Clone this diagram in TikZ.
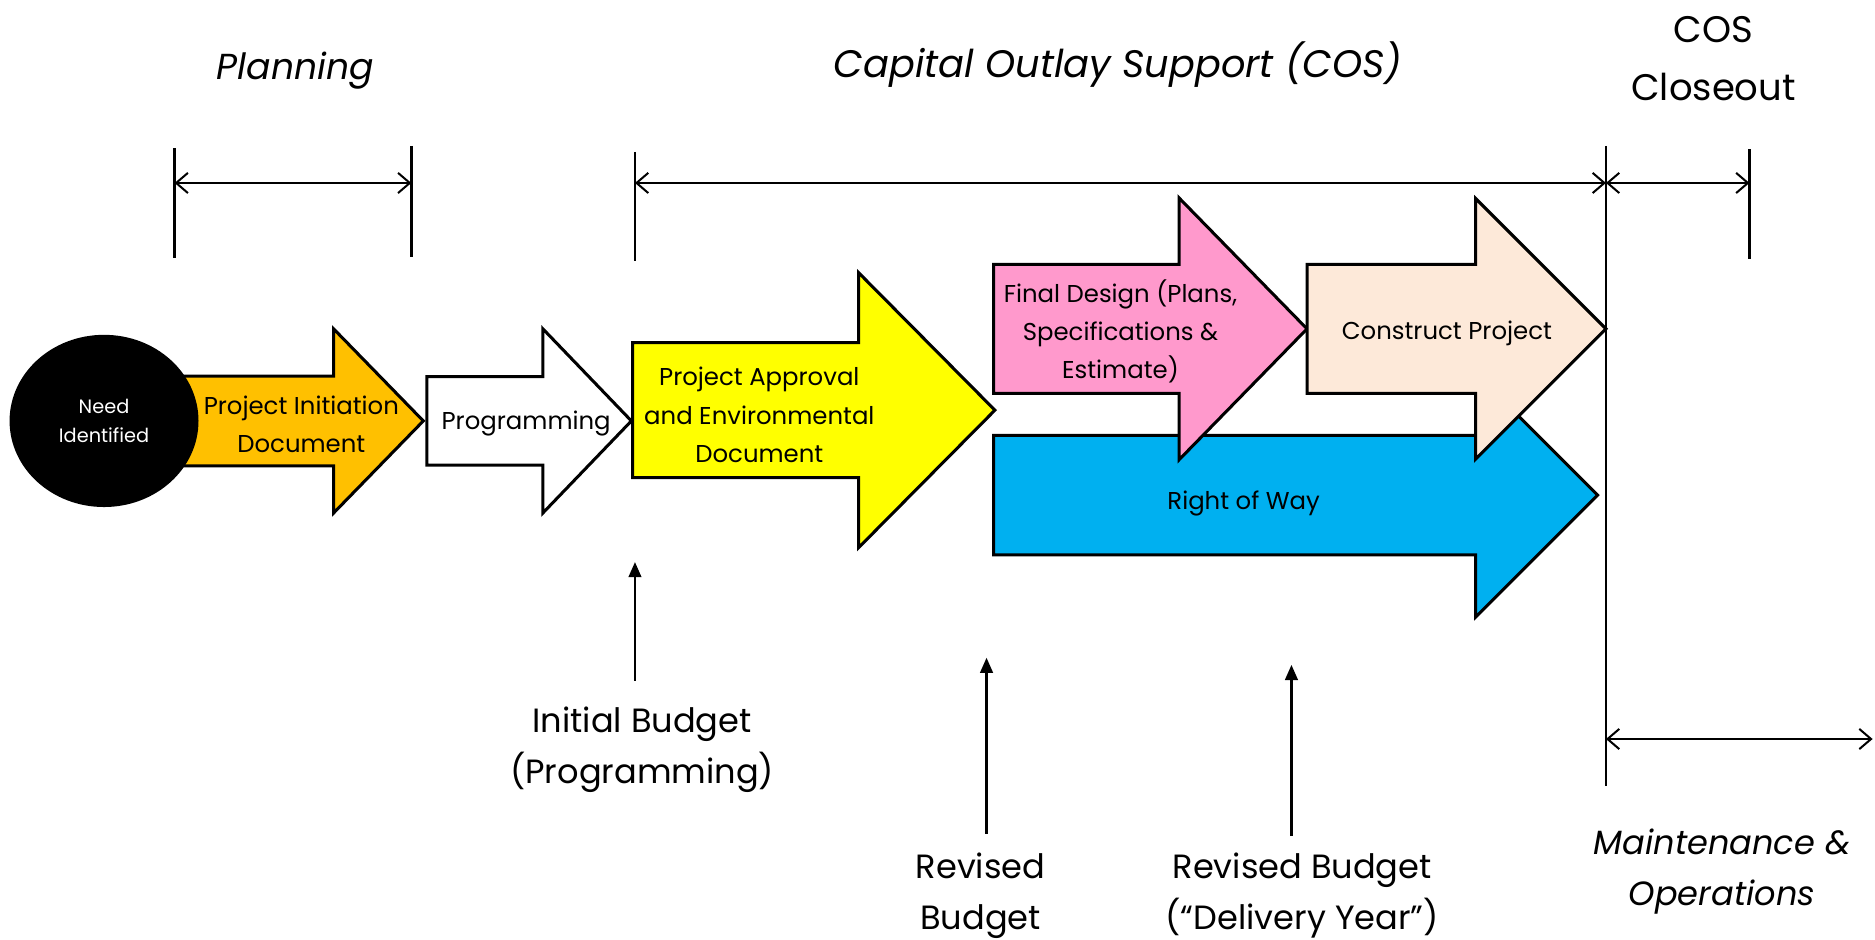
\documentclass[tikz,border=0pt]{standalone}
\usepackage{fontspec}
\setmainfont{Poppins}
\usetikzlibrary{arrows.meta,shapes.geometric}

\definecolor{pidorange}{HTML}{FFC000}
\definecolor{paedyellow}{HTML}{FFFF00}
\definecolor{psepink}{HTML}{FF99CC}
\definecolor{rowblue}{HTML}{00B0F0}
\definecolor{conpeach}{HTML}{FDE9D9}

% block arrow: fill, left, head base, tip, centre y, body half, head half
\newcommand{\phasearrow}[7]{%
  \draw[blockline,fill=#1] (#2,#5-#6) -- (#3,#5-#6) -- (#3,#5-#7) -- (#4,#5)
    -- (#3,#5+#7) -- (#3,#5+#6) -- (#2,#5+#6) -- cycle;}

\begin{document}
\begin{tikzpicture}[x=0.25mm,y=-0.25mm,
  blockline/.style={draw=black,line width=1.8pt,line join=miter},
  phaselabel/.style={align=center,inner sep=0pt,font=\fontsize{14.5}{22.7}\selectfont},
  heading/.style={align=center,inner sep=0pt,font=\fontsize{21.5}{34}\selectfont\itshape},
  budget/.style={align=center,inner sep=0pt,font=\fontsize{20}{30}\selectfont},
  tick/.style={line width=1.4pt},
  span/.style={line width=1.2pt,{Straight Barb[length=7pt,width=12pt]}-{Straight Barb[length=7pt,width=12pt]}},
  budgetarrow/.style={line width=1.4pt,-{Triangle[length=9pt,width=7.5pt]}}]
  \useasboundingbox (0,0) rectangle (1568,786);

  % phase arrows
  \phasearrow{pidorange}{150}{279}{354}{352}{37.5}{77}
  \phasearrow{white}{357}{454}{528}{352}{37}{77}
  \phasearrow{paedyellow}{529}{718}{832}{343}{56.5}{115}
  \phasearrow{rowblue}{831}{1234}{1336}{414}{50}{102}
  \phasearrow{psepink}{831}{986}{1093}{275}{54}{109.5}
  \phasearrow{conpeach}{1093}{1234}{1343}{275}{54}{109}

  \node[ellipse,fill=black,minimum width=39.5mm,minimum height=36mm,text=white,
    align=center,font=\fontsize{11.5}{17}\selectfont] (need) at (87,352) {Need\\Identified};
  \node[phaselabel] (pid) at (252,355) {Project Initiation\\Document};
  \node[phaselabel] (prog) at (440,354) {Programming};
  \node[phaselabel] (paed) at (635,347) {Project Approval\\and Environmental\\Document};
  \node[phaselabel] (pse) at (937,277) {Final Design (Plans,\\Specifications \&\\Estimate)};
  \node[phaselabel] (con) at (1210,279) {Construct Project};
  \node[phaselabel] (row) at (1040,421) {Right of Way};

  % headings
  \node[heading] (planning) at (247,59) {Planning};
  \node[heading,font=\fontsize{22.8}{34}\selectfont\itshape] (cos) at (935,54) {Capital Outlay Support (COS)};
  \node[heading,font=\fontsize{22}{34}\selectfont] (close) at (1433,49) {COS\\Closeout};
  \node[heading,font=\fontsize{20}{30.5}\selectfont\itshape] (mo) at (1440,729) {Maintenance \&\\Operations};

  % spans
  \coordinate (plA) at (146,153);
  \coordinate (plB) at (344,153);
  \coordinate (cosA) at (531,153);
  \coordinate (cosB) at (1343,153);
  \coordinate (clB) at (1463,153);
  \coordinate (moA) at (1343,618);
  \coordinate (moB) at (1566,618);
  \draw[tick] (146,124) -- (146,216);
  \draw[tick] (344,122) -- (344,215);
  \draw[tick] (531,127) -- (531,218);
  \draw[tick] (1343,122) -- (1343,657);
  \draw[tick] (1463,125) -- (1463,217);
  \draw[span] (plA) -- (plB);
  \draw[span] (cosA) -- (cosB);
  \draw[span] (cosB) -- (clB);
  \draw[span] (moA) -- (moB);

  % budgets
  \coordinate (ibtop) at (531,470);
  \coordinate (rbtop) at (825,550);
  \coordinate (dytop) at (1080,556);
  \node[budget] (ib) at (537,627) {Initial Budget\\(Programming)};
  \node[budget] (rb) at (820,749) {Revised\\Budget};
  \node[budget] (dy) at (1089,749) {Revised Budget\\(“Delivery Year”)};
  \draw[budgetarrow,shorten <=5.5mm] (ib.north -| ibtop) -- (ibtop);
  \draw[budgetarrow,shorten <=4mm] (rb.north -| rbtop) -- (rbtop);
  \draw[budgetarrow,shorten <=3.5mm] (dy.north -| dytop) -- (dytop);
\end{tikzpicture}
\end{document}
